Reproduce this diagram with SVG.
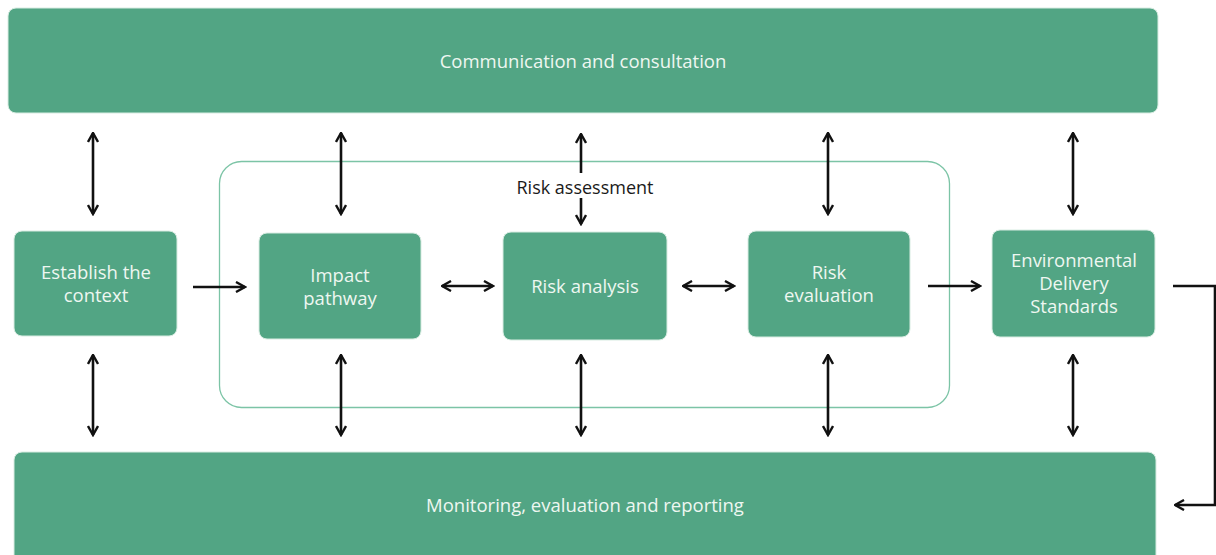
<svg xmlns="http://www.w3.org/2000/svg" width="1216" height="555" viewBox="0 0 1216 555">
<style>
.box{fill:#52a584;stroke:#d8ece2;stroke-width:1}
.lbl{font-family:"Open Sans","Noto Sans",sans-serif;font-size:18.5px;fill:#eef7f1;text-anchor:middle}
.blk{font-family:"Open Sans","Noto Sans",sans-serif;font-size:18px;fill:#1a1a1a;text-anchor:middle}
.con{stroke:#111;stroke-width:2.6;fill:none}
</style>
<defs>
<marker id="ah" viewBox="0 0 12 12" refX="10.5" refY="6" markerWidth="12" markerHeight="12" markerUnits="userSpaceOnUse" orient="auto-start-reverse">
<path d="M1.5,1 L10.5,6 L1.5,11" fill="none" stroke="#111" stroke-width="2.4"/>
</marker>
</defs>
<rect width="1216" height="555" fill="#fff"/>
<g id="container">
<rect x="219.5" y="161.5" width="730" height="246" rx="22" fill="none" stroke="#7cc4a6" stroke-width="1.3"/>
</g>
<g id="top"><rect class="box" x="8" y="8" width="1150" height="105" rx="8"/><text class="lbl" x="583" y="68">Communication and consultation</text></g>
<g id="bottom"><rect class="box" x="14" y="452" width="1142" height="112" rx="8"/><text class="lbl" x="585" y="512">Monitoring, evaluation and reporting</text></g>
<g id="establish"><rect class="box" x="14" y="231" width="163" height="105" rx="8"/><text class="lbl" x="96" y="279">Establish the</text><text class="lbl" x="96" y="302">context</text></g>
<g id="impact"><rect class="box" x="259" y="233" width="162" height="106" rx="8"/><text class="lbl" x="340" y="282">Impact</text><text class="lbl" x="340" y="305">pathway</text></g>
<g id="analysis"><rect class="box" x="503" y="232" width="164" height="108" rx="8"/><text class="lbl" x="585" y="293">Risk analysis</text></g>
<g id="evaluation"><rect class="box" x="748" y="231" width="162" height="106" rx="8"/><text class="lbl" x="829" y="279">Risk</text><text class="lbl" x="829" y="302">evaluation</text></g>
<g id="eds"><rect class="box" x="992" y="230" width="163" height="107" rx="8"/><text class="lbl" x="1074" y="267">Environmental</text><text class="lbl" x="1074" y="290">Delivery</text><text class="lbl" x="1074" y="313">Standards</text></g>
<text class="blk" x="585" y="194">Risk assessment</text>
<g id="connectors">
<line class="con" x1="93" y1="133" x2="93" y2="214" marker-start="url(#ah)" marker-end="url(#ah)"/>
<line class="con" x1="341" y1="133" x2="341" y2="214" marker-start="url(#ah)" marker-end="url(#ah)"/>
<line class="con" x1="581" y1="173" x2="581" y2="134" marker-end="url(#ah)"/>
<line class="con" x1="581" y1="198" x2="581" y2="224" marker-end="url(#ah)"/>
<line class="con" x1="828" y1="133" x2="828" y2="214" marker-start="url(#ah)" marker-end="url(#ah)"/>
<line class="con" x1="1073" y1="133" x2="1073" y2="214" marker-start="url(#ah)" marker-end="url(#ah)"/>
<line class="con" x1="93" y1="355" x2="93" y2="435" marker-start="url(#ah)" marker-end="url(#ah)"/>
<line class="con" x1="341" y1="355" x2="341" y2="435" marker-start="url(#ah)" marker-end="url(#ah)"/>
<line class="con" x1="581" y1="355" x2="581" y2="435" marker-start="url(#ah)" marker-end="url(#ah)"/>
<line class="con" x1="828" y1="355" x2="828" y2="435" marker-start="url(#ah)" marker-end="url(#ah)"/>
<line class="con" x1="1073" y1="355" x2="1073" y2="435" marker-start="url(#ah)" marker-end="url(#ah)"/>
<line class="con" x1="193" y1="287" x2="245" y2="287" marker-end="url(#ah)"/>
<line class="con" x1="442" y1="286" x2="493" y2="286" marker-start="url(#ah)" marker-end="url(#ah)"/>
<line class="con" x1="683" y1="286" x2="734" y2="286" marker-start="url(#ah)" marker-end="url(#ah)"/>
<line class="con" x1="928" y1="286" x2="980" y2="286" marker-end="url(#ah)"/>
<polyline class="con" points="1173,286 1215,286 1215,505 1175,505" marker-end="url(#ah)"/>
</g>
</svg>
